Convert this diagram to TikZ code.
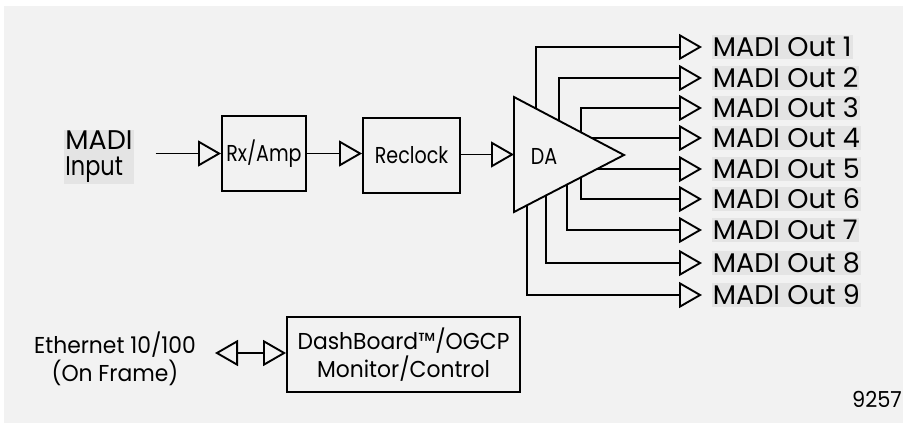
\documentclass[tikz,border=0pt]{standalone}
\usepackage{fontspec}
\setmainfont{Poppins}
\newfontfamily\narrowfont{Poppins}[FakeStretch=0.83]
\newfontfamily\semifont{Poppins}[FakeStretch=0.95]
\usetikzlibrary{arrows.meta,calc}
\definecolor{bg}{HTML}{F2F2F2}
\definecolor{hl}{HTML}{E4E4E4}
\begin{document}
\begin{tikzpicture}[x=1bp,y=-1bp,line width=1.9bp,
  otri/.tip={Triangle[open,length=23bp,width=26bp]},
  conn/.style={-otri},
  big/.style={font=\fontsize{27bp}{26bp}\selectfont},
  box/.style={draw,inner sep=0pt,align=center},
  outlab/.style={fill=hl,anchor=west,inner xsep=1bp,inner ysep=0pt,minimum height=24bp,big},
  inlab/.style={fill=hl,align=left,inner xsep=1bp,inner ysep=1.5bp,big},
  ]
\useasboundingbox (0,0) rectangle (903,423);
\fill[white] (0,0) rectangle (903,423);
\fill[bg] (4,6) rectangle (903,423);

% input
\node[inlab] (in) at (99,157) {MADI\\{\narrowfont Input}};
\node[box,minimum width=84bp,minimum height=75bp,font=\fontsize{23bp}{28bp}\narrowfont] (rx) at (264,153.5) {Rx/Amp};
\node[box,minimum width=97bp,minimum height=75bp,font=\fontsize{23bp}{28bp}\narrowfont] (rc) at (411.5,155.5) {Reclock};

% DA triangle
\coordinate (daT) at (514,97);
\coordinate (daB) at (514,212);
\coordinate (daA) at (624,155);
\coordinate (daIn) at ($(daT)!0.5!(daB)$);
\draw[line join=miter] (daT) -- (daA) -- (daB) -- cycle;
\node[anchor=west,inner sep=0pt,font=\fontsize{23bp}{28bp}\narrowfont] (da) at (530,156) {DA};

\draw[conn,shorten <=21bp] (in.east |- rx.west) -- (rx.west);
\draw[conn] (rx.east) -- (rx.east -| rc.west);
\draw[conn] (rc.east |- daIn) -- (daIn);

% outputs
\node[outlab] (o1) at (711,47) {MADI Out 1};
\node[outlab] (o2) at (711,78) {MADI Out 2};
\node[outlab] (o3) at (711,108) {MADI Out 3};
\node[outlab] (o4) at (711,138) {MADI Out 4};
\node[outlab] (o5) at (711,169) {MADI Out 5};
\node[outlab] (o6) at (711,199) {MADI Out 6};
\node[outlab] (o7) at (711,230) {MADI Out 7};
\node[outlab] (o8) at (711,263) {MADI Out 8};
\node[outlab] (o9) at (711,295) {MADI Out 9};

\draw[conn,shorten >=9bp] ($(daT)!0.2!(daA)$) |- (o1.west);
\draw[conn,shorten >=9bp] ($(daT)!0.409!(daA)$) |- (o2.west);
\draw[conn,shorten >=9bp] ($(daT)!0.609!(daA)$) |- (o3.west);
\draw[conn,shorten >=9bp] ($(daT)!0.707!(daA)$) -- (o4.west);
\draw[conn,shorten >=9bp] ($(daB)!0.754!(daA)$) -- (o5.west);
\draw[conn,shorten >=9bp] ($(daB)!0.609!(daA)$) |- (o6.west);
\draw[conn,shorten >=9bp] ($(daB)!0.482!(daA)$) |- (o7.west);
\draw[conn,shorten >=9bp] ($(daB)!0.291!(daA)$) |- (o8.west);
\draw[conn,shorten >=9bp] ($(daB)!0.118!(daA)$) |- (o9.west);

% control
\node[align=center,inner sep=0pt,font=\fontsize{23bp}{28bp}\semifont] (eth) at (115,359) {Ethernet 10/100\\(On Frame)};
\node[box,minimum width=233bp,minimum height=75bp,font=\fontsize{23bp}{28bp}\semifont] (dash) at (403.5,354.5) {DashBoard™/OGCP\\Monitor/Control};
\coordinate (ethT) at (215,353);
\draw[otri-otri] (ethT) -- (ethT -| dash.west);

\node[inner sep=0pt,font=\fontsize{22bp}{28bp}\semifont] (fig) at (877,399) {9257};
\end{tikzpicture}
\end{document}
